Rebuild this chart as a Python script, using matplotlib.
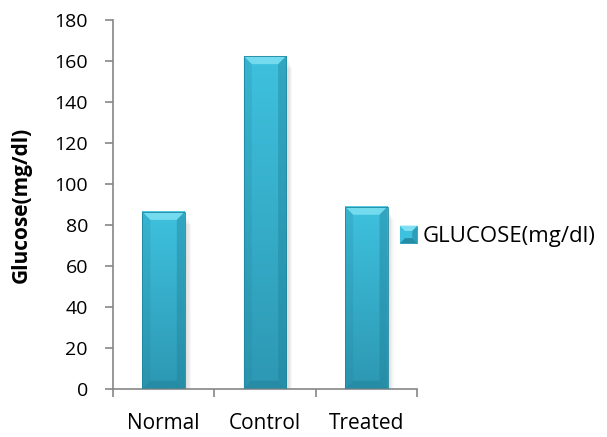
import numpy as np
import matplotlib.pyplot as plt
from matplotlib.patches import Rectangle, Polygon
from matplotlib.colors import LinearSegmentedColormap
from matplotlib.legend_handler import HandlerBase

plt.rcParams['font.family'] = ['Open Sans', 'DejaVu Sans']

groups = ['Normal', 'Control', 'Treated']
glucose = [86.5, 162.5, 89]
series_name = 'GLUCOSE(mg/dl)'

face_top = '#3ec1de'
face_bottom = '#2d98b3'
bevel_light = '#7ee0f2'
bevel_dark = '#1f7f97'
axis_grey = '#868686'

fig = plt.figure(figsize=(6.07, 4.37), dpi=100)
ax = fig.add_axes([0.186, 0.110, 0.501, 0.844])

bar_w = 0.42
bx = 0.08   # bevel width in x data units
by = 4.0    # bevel height in y data units
grad = LinearSegmentedColormap.from_list('g', [face_bottom, face_top])
shade = np.linspace(0, 1, 64).reshape(-1, 1)

for i, v in enumerate(glucose):
    x0, x1 = i - bar_w / 2, i + bar_w / 2
    # soft drop shadow
    for k in range(1, 6):
        ax.add_patch(Rectangle((x0 + 0.012 * k, -1.2 * k), bar_w, v,
                               color='black', alpha=0.03, lw=0, zorder=1))
    ax.imshow(shade, cmap=grad, extent=(x0, x1, 0, v), aspect='auto',
              origin='lower', zorder=2)
    # bevel facets
    ax.add_patch(Polygon([(x0, v), (x1, v), (x1 - bx, v - by), (x0 + bx, v - by)],
                         closed=True, color=bevel_light, alpha=0.85, lw=0, zorder=3))
    ax.add_patch(Polygon([(x0, 0), (x0 + bx, by), (x0 + bx, v - by), (x0, v)],
                         closed=True, color=bevel_dark, alpha=0.2, lw=0, zorder=3))
    ax.add_patch(Polygon([(x1, 0), (x1 - bx, by), (x1 - bx, v - by), (x1, v)],
                         closed=True, color=bevel_dark, alpha=0.4, lw=0, zorder=3))
    ax.add_patch(Polygon([(x0, 0), (x1, 0), (x1 - bx, by), (x0 + bx, by)],
                         closed=True, color=bevel_dark, alpha=0.45, lw=0, zorder=3))
    ax.add_patch(Rectangle((x0, 0), bar_w, v, fill=False, ec='#1f86a0',
                           lw=0.6, zorder=4))

ax.set_xlim(-0.5, len(groups) - 0.5)
ax.set_ylim(0, 180)
ax.set_yticks(np.arange(0, 181, 20))
ax.set_xticks(range(len(groups)))
ax.set_xticklabels(groups)
ax.set_xticks(np.arange(-0.5, len(groups), 1.0), minor=True)
ax.tick_params(axis='x', which='major', length=0, pad=17, labelsize=15)
ax.tick_params(axis='x', which='minor', length=6, color=axis_grey, width=1.2,
               direction='out')
ax.tick_params(axis='y', length=6, color=axis_grey, width=1.2, labelsize=14,
               pad=12)
for s in ['top', 'right']:
    ax.spines[s].set_visible(False)
for s in ['left', 'bottom']:
    ax.spines[s].set_color(axis_grey)
    ax.spines[s].set_linewidth(1.2)
ax.set_ylabel('Glucose(mg/dl)', fontsize=15, fontweight='bold', labelpad=16)


class BevelHandler(HandlerBase):
    def create_artists(self, legend, orig, xd, yd, width, height, fontsize, trans):
        s = min(width, height) * 1.15
        x0 = xd + width - s
        y0 = yd + (height - s) / 2
        d = s * 0.3
        arts = [Rectangle((x0, y0), s, s, color=face_top, lw=0, transform=trans)]
        arts.append(Polygon([(x0, y0 + s), (x0 + s, y0 + s), (x0 + s - d, y0 + s - d),
                             (x0 + d, y0 + s - d)], color=bevel_light, lw=0, transform=trans))
        arts.append(Polygon([(x0, y0), (x0 + s, y0), (x0 + s - d, y0 + d),
                             (x0 + d, y0 + d)], color=bevel_dark, alpha=0.8, lw=0,
                            transform=trans))
        arts.append(Polygon([(x0 + s, y0), (x0 + s, y0 + s), (x0 + s - d, y0 + s - d),
                             (x0 + s - d, y0 + d)], color=bevel_dark, alpha=0.5, lw=0,
                            transform=trans))
        return arts


handle = Rectangle((0, 0), 1, 1)
fig.legend([handle], [series_name], handler_map={Rectangle: BevelHandler()},
           loc='center left', bbox_to_anchor=(0.622, 0.458), frameon=False,
           fontsize=16, handlelength=0.9, handletextpad=0.25)

fig.savefig('out.png', dpi=100)
